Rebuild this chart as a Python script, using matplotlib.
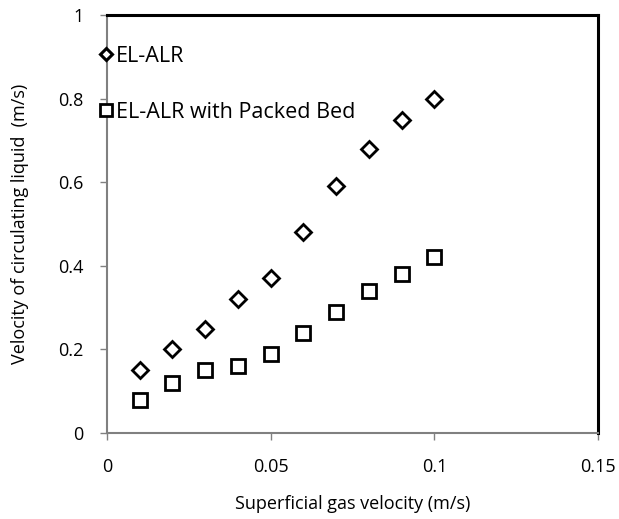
import matplotlib
matplotlib.use("Agg")
import matplotlib.pyplot as plt

plt.rcParams['font.family'] = ['Open Sans', 'DejaVu Sans']

gas_velocity = [0.01, 0.02, 0.03, 0.04, 0.05, 0.06, 0.07, 0.08, 0.09, 0.10]
el_alr = [0.15, 0.20, 0.25, 0.32, 0.37, 0.48, 0.59, 0.68, 0.75, 0.80]
el_alr_packed = [0.08, 0.12, 0.15, 0.16, 0.19, 0.24, 0.29, 0.34, 0.38, 0.42]
x_ticks = [0, 0.05, 0.1, 0.15]
x_tick_labels = ['0', '0.05', '0.1', '0.15']
y_ticks = [0, 0.2, 0.4, 0.6, 0.8, 1]
y_tick_labels = ['0', '0.2', '0.4', '0.6', '0.8', '1']

FS = 13
LFS = 15.5

fig = plt.figure(figsize=(6.19, 5.19), dpi=100)
ax = fig.add_axes([107/619, 1-433/519, (598-107)/619, (433-15)/519])

ax.plot(gas_velocity, el_alr, linestyle='none', marker='D', markersize=8,
        markerfacecolor='white', markeredgecolor='black', markeredgewidth=2,
        label='EL-ALR', clip_on=False)
ax.plot(gas_velocity, el_alr_packed, linestyle='none', marker='s', markersize=10,
        markerfacecolor='white', markeredgecolor='black', markeredgewidth=2,
        label='EL-ALR with Packed Bed', clip_on=False)

ax.set_xlim(0, 0.15)
ax.set_ylim(0, 1)
ax.set_xticks(x_ticks)
ax.set_xticklabels(x_tick_labels)
ax.set_yticks(y_ticks)
ax.set_yticklabels(y_tick_labels)

for side in ['left', 'bottom']:
    ax.spines[side].set_color('#808080')
    ax.spines[side].set_linewidth(1.5)
for side in ['top', 'right']:
    ax.spines[side].set_color('black')
    ax.spines[side].set_linewidth(2.2)

ax.tick_params(axis='both', direction='out', length=5, width=1, color='#808080',
               labelsize=FS, labelcolor='black')
ax.tick_params(axis='x', pad=13)
ax.tick_params(axis='y', pad=12)

ax.set_xlabel('Superficial gas velocity (m/s)', fontsize=FS, labelpad=14)
ax.set_ylabel('Velocity of circulating liquid  (m/s)', fontsize=FS, labelpad=21)

leg = ax.legend(loc='upper left', bbox_to_anchor=(-0.03, 0.947), frameon=False,
                fontsize=LFS, handlelength=0.45, handletextpad=0.25,
                labelspacing=1.62, borderaxespad=0)
leg.legend_handles[0].set_markersize(6)
leg.legend_handles[0].set_markeredgewidth(2.2)
leg.legend_handles[1].set_markersize(8)

fig.savefig('out.png', dpi=100)
